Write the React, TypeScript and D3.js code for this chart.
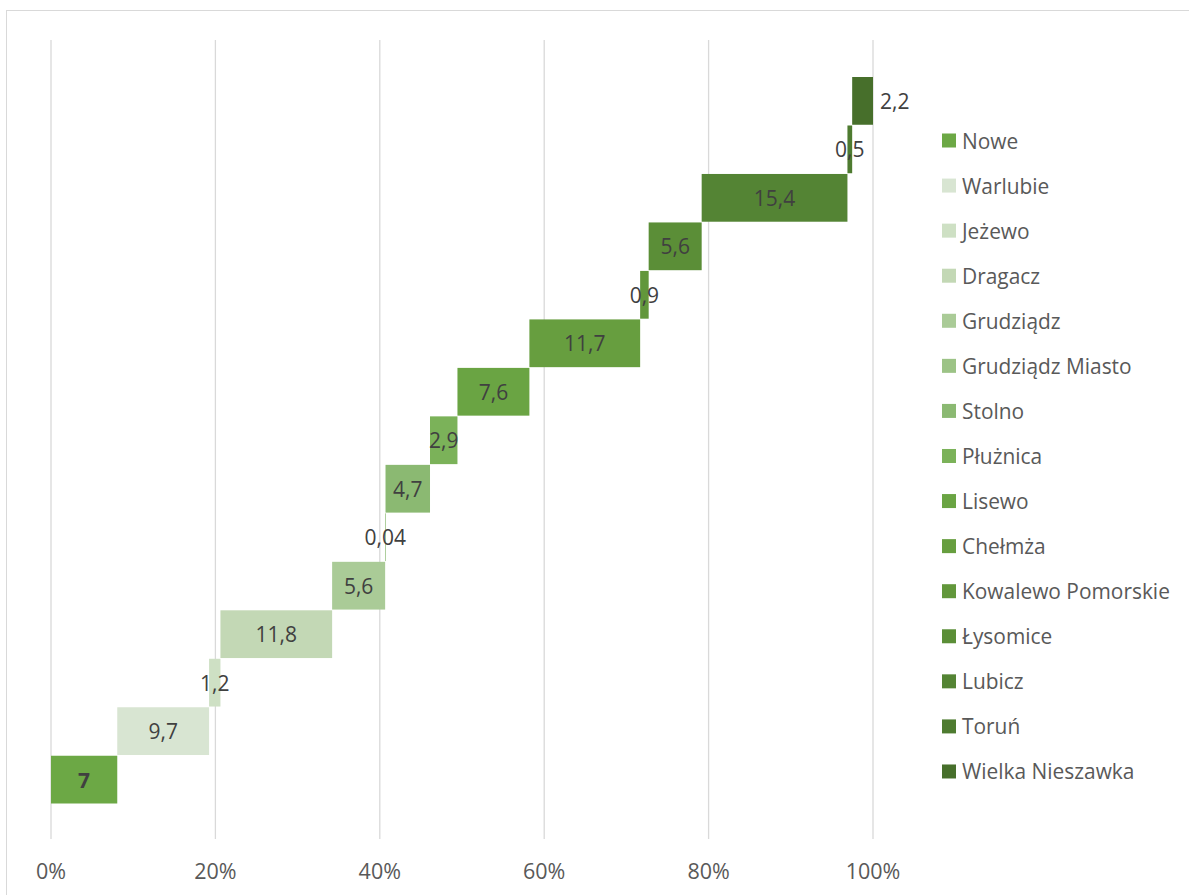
import React from "react";
import * as d3 from "d3";

const categories = [
  "Nowe", "Warlubie", "Jeżewo", "Dragacz", "Grudziądz", "Grudziądz Miasto", "Stolno",
  "Płużnica", "Lisewo", "Chełmża", "Kowalewo Pomorskie", "Łysomice", "Lubicz", "Toruń", "Wielka Nieszawka",
];
const values = [7, 9.7, 1.2, 11.8, 5.6, 0.04, 4.7, 2.9, 7.6, 11.7, 0.9, 5.6, 15.4, 0.5, 2.2];
const colors = [
  "#6CA845", "#D8E5D2", "#CEE0C4", "#C3D8B5", "#AACB97", "#9CC386", "#8BB972",
  "#7BB259", "#6AA443", "#679E3F", "#62973B", "#5B8E37", "#548434", "#4E7B30", "#476F2B",
];
const tickValues = [0, 0.2, 0.4, 0.6, 0.8, 1];
const FONT = "'Open Sans', sans-serif";

export default function App() {
  const W = 1189, H = 895;
  const total = d3.sum(values);
  const starts = values.map((_, i) => d3.sum(values.slice(0, i)));
  const x = d3.scaleLinear().domain([0, 1]).range([51, 873]);
  const xv = (v: number) => x(v / total);
  // bottom-to-top order: first category at bottom
  const y = d3.scaleBand<string>().domain([...categories].reverse()).range([77, 803.5]).paddingInner(0.015);
  const fmt = (v: number) => String(v).replace(".", ",");
  const legendY = (i: number) => 140.5 + i * 45.07;

  return (
    <svg width={W} height={H} style={{ position: "absolute", left: 0, top: 0, background: "#fff" }} fontFamily={FONT}>
      <rect x={6.5} y={10.5} width={W + 20} height={H + 20} fill="#fff" stroke="#D9D9D9" strokeWidth={1} />
      {tickValues.map((t) => (
        <g key={t}>
          <line x1={x(t)} x2={x(t)} y1={40} y2={839} stroke="#D9D9D9" strokeWidth={1.3} />
          <text x={x(t)} y={870} textAnchor="middle" dominantBaseline="central" fontSize={21.5} fill="#595959">
            {d3.format(".0%")(t)}
          </text>
        </g>
      ))}
      {categories.map((c, i) => {
        const x0 = xv(starts[i]);
        const x1 = xv(starts[i] + values[i]);
        const yy = y(c)!;
        const h = y.bandwidth();
        const last = i === categories.length - 1;
        return (
          <g key={c}>
            <rect x={x0} y={yy} width={Math.max(x1 - x0, 0.8)} height={h} fill={colors[i]} />
            <text
              x={last ? x1 + 7 : (x0 + x1) / 2}
              y={yy + h / 2}
              textAnchor={last ? "start" : "middle"}
              dominantBaseline="central"
              fontSize={21}
              fontWeight={i === 0 ? 700 : 400}
              fill="#404040"
            >
              {fmt(values[i])}
            </text>
          </g>
        );
      })}
      {categories.map((c, i) => (
        <g key={"lg" + c}>
          <rect x={942} y={legendY(i) - 7} width={14} height={14} fill={colors[i]} />
          <text x={962} y={legendY(i)} dominantBaseline="central" fontSize={20.9} fill="#595959">
            {c}
          </text>
        </g>
      ))}
    </svg>
  );
}
